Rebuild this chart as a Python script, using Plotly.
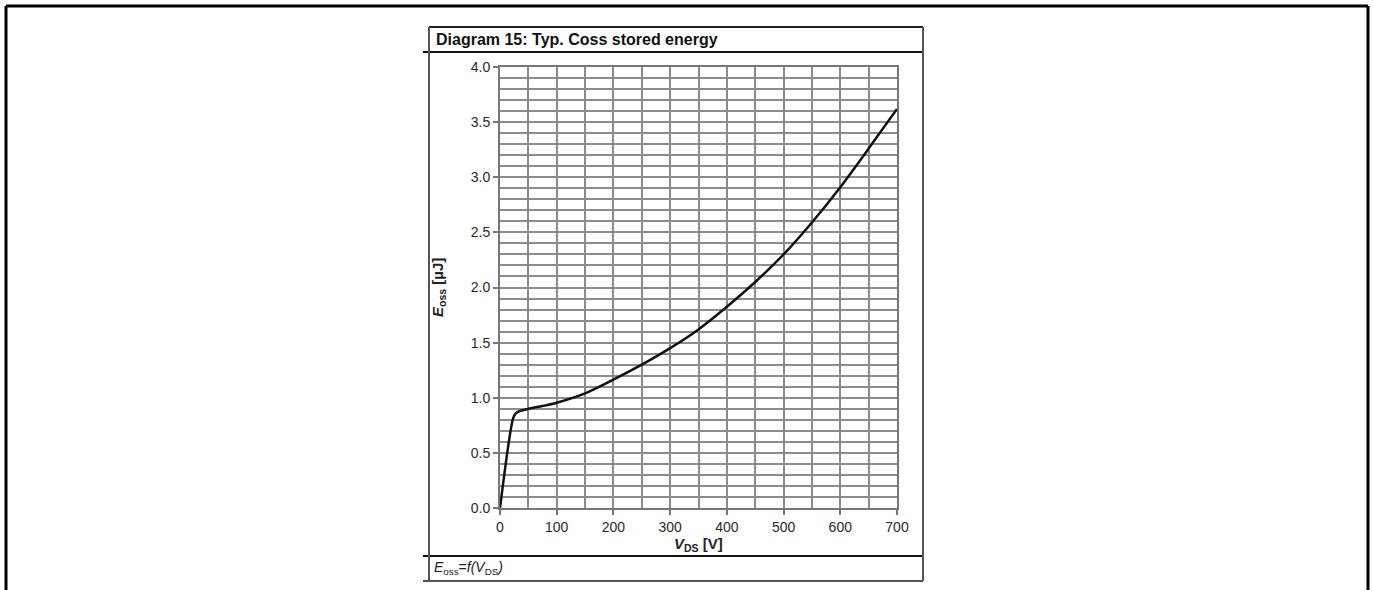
import plotly.graph_objects as go

# Data
vds = [0, 23, 28, 35, 50, 75, 100, 150, 200, 250, 300, 350, 400, 450, 500, 550, 600, 650, 700]
eoss = [0.0, 0.81, 0.86, 0.88, 0.90, 0.925, 0.955, 1.04, 1.165, 1.30, 1.45, 1.62, 1.825, 2.05, 2.30, 2.59, 2.91, 3.26, 3.62]

x_ticks = [0, 100, 200, 300, 400, 500, 600, 700]
y_ticks = [0.0, 0.5, 1.0, 1.5, 2.0, 2.5, 3.0, 3.5, 4.0]

W, H = 1373, 590
L, R, T, B = 500, 476, 67, 82
PW = W - L - R
PH = H - T - B


def px(xp):
    return (xp - L) / PW


def py(yp):
    return (H - B - yp) / PH


FONT = "Liberation Sans, Arial, sans-serif"
GRID = "#8c8c8c"

fig = go.Figure()
fig.add_trace(go.Scatter(x=vds, y=eoss, mode="lines",
                         line=dict(color="#111111", width=2.5, shape="spline", smoothing=0.8),
                         showlegend=False, hoverinfo="skip"))

fig.update_xaxes(range=[0, 700], tickvals=x_ticks, ticktext=[str(v) for v in x_ticks],
                 showgrid=True, gridcolor=GRID, gridwidth=1.5,
                 minor=dict(dtick=50, tick0=0, showgrid=True, gridcolor=GRID, gridwidth=1.5),
                 ticks="outside", ticklen=5, tickcolor="#777777", tickwidth=1.5,
                 showline=True, linecolor="#777777", linewidth=2, mirror=True,
                 zeroline=False, tickfont=dict(family=FONT, size=14, color="#2a2a2a"))
fig.update_yaxes(range=[0, 4.0], tickvals=y_ticks, ticktext=[f"{v:.1f}" for v in y_ticks],
                 showgrid=True, gridcolor=GRID, gridwidth=1.5,
                 minor=dict(dtick=0.1, tick0=0, showgrid=True, gridcolor=GRID, gridwidth=1.5),
                 ticks="outside", ticklen=5, tickcolor="#777777", tickwidth=1.5,
                 showline=True, linecolor="#777777", linewidth=2, mirror=True,
                 zeroline=False, tickfont=dict(family=FONT, size=14, color="#2a2a2a"))

shapes = []
# outer black frame
for (x0, y0, x1, y1) in [(6, 6, 1368, 6), (6, 6, 6, 600), (1368, 6, 1368, 600)]:
    shapes.append(dict(type="line", xref="paper", yref="paper",
                       x0=px(x0), y0=py(y0), x1=px(x1), y1=py(y1),
                       line=dict(color="#000000", width=3)))
# inner diagram box
for (x0, y0, x1, y1, c, w) in [
    (429, 27, 923, 27, "#222222", 2),
    (423, 52, 923, 52, "#111111", 2),
    (423, 556, 923, 556, "#111111", 2),
    (423, 581, 923, 581, "#555555", 2),
    (429, 27, 429, 581, "#555555", 2),
    (923, 27, 923, 581, "#555555", 2),
]:
    shapes.append(dict(type="line", xref="paper", yref="paper",
                       x0=px(x0), y0=py(y0), x1=px(x1), y1=py(y1),
                       line=dict(color=c, width=w)))

annotations = [
    dict(text="<b>Diagram 15: Typ. Coss stored energy</b>", xref="paper", yref="paper",
         x=px(434), y=py(39), xanchor="left", yanchor="middle", showarrow=False,
         font=dict(family=FONT, size=16, color="#111111")),
    dict(text="<b><i>V</i><sub>DS</sub> [V]</b>", xref="paper", yref="paper",
         x=px(698), y=py(544), xanchor="center", yanchor="middle", showarrow=False,
         font=dict(family=FONT, size=15, color="#222222")),
    dict(text="<b><i>E</i><sub>oss</sub> [µJ]</b>", xref="paper", yref="paper",
         x=px(438), y=py(288), xanchor="center", yanchor="middle", showarrow=False,
         textangle=-90, font=dict(family=FONT, size=15, color="#222222")),
    dict(text="<i>E</i><sub>oss</sub>=<i>f(V</i><sub>DS</sub><i>)</i>", xref="paper", yref="paper",
         x=px(432), y=py(568), xanchor="left", yanchor="middle", showarrow=False,
         font=dict(family=FONT, size=14, color="#222222")),
]

fig.update_layout(width=W, height=H, margin=dict(l=L, r=R, t=T, b=B, autoexpand=False),
                  paper_bgcolor="white", plot_bgcolor="white",
                  shapes=shapes, annotations=annotations)

fig.write_html("out.html")
